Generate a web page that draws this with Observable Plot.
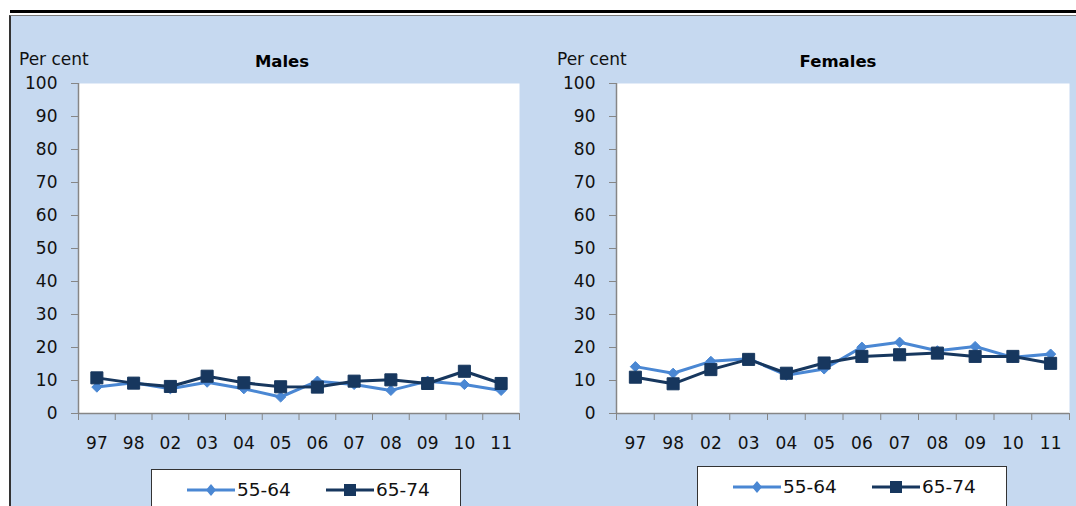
<!DOCTYPE html>
<html>
<head>
<meta charset="utf-8">
<script src="https://cdn.jsdelivr.net/npm/d3@7"></script>
<script src="https://cdn.jsdelivr.net/npm/@observablehq/plot@0.6"></script>
<style>
  html, body { margin: 0; padding: 0; background: #fff; }
  body { width: 1076px; height: 506px; position: relative; overflow: hidden; font-family: "DejaVu Sans", sans-serif; }
  .topline { position: absolute; left: 10px; top: 10px; width: 1066px; height: 3px; background: #000; }
  .box { position: absolute; left: 9px; top: 15px; right: 0; bottom: 0; background: #C6D9F0; border-left: 2px solid #333; border-top: 1px solid #7a7a7a; }
  .ylab { position: absolute; font-size: 17px; color: #111; line-height: 1; }
  .title { position: absolute; font-size: 16.5px; font-weight: bold; color: #000; line-height: 1; transform: translateX(-50%); }
  .chart { position: absolute; top: 70px; }
  .legend { position: absolute; height: 48px; background: #fff; border: 1.5px solid #333; box-sizing: border-box; }
  .item { position: absolute; top: 9px; display: flex; align-items: center; font-size: 18.5px; color: #111; }
  .item svg { display: block; margin-right: 2px; }
</style>
</head>
<body>
<div class="topline"></div>
<div class="box"></div>
<div id="root"></div>
<script>
const years = ["97","98","02","03","04","05","06","07","08","09","10","11"];
const seriesNames = ["55-64", "65-74"];
const males5564 = [8, 9.3, 7.5, 9.5, 7.5, 5, 9.8, 8.8, 7, 9.8, 8.8, 7];
const males6574 = [10.8, 9.2, 8.2, 11.3, 9.3, 8.1, 8, 9.8, 10.2, 9.1, 12.8, 9.1];
const females5564 = [14.2, 12.2, 15.8, 16.6, 11.6, 13.5, 20.1, 21.6, 19, 20.3, 17, 18];
const females6574 = [11, 9, 13.3, 16.4, 12.2, 15.3, 17.3, 17.8, 18.3, 17.3, 17.3, 15.2];
const yTicks = [0, 10, 20, 30, 40, 50, 60, 70, 80, 90, 100];

const LIGHT = "#4A87D3";
const DARK = "#17375E";
const AXIS = "#868686";
const root = document.getElementById("root");

function panel(title, s1, s2, cfg) {
  const rows = years.map((yr, i) => ({i, yr, a: s1[i], b: s2[i]}));
  const chart = Plot.plot({
    width: cfg.width, height: 400,
    marginLeft: cfg.ml, marginRight: cfg.mr, marginTop: 13, marginBottom: 57,
    x: {domain: [-0.5, years.length - 0.5], axis: null, label: null},
    y: {domain: [0, 100], axis: null, label: null},
    style: {fontFamily: "DejaVu Sans, sans-serif", fontSize: "17px", background: "transparent", overflow: "visible"},
    marks: [
      Plot.frame({fill: "white", stroke: "none"}),
      Plot.ruleX([-0.5], {stroke: AXIS, strokeWidth: 1.5}),
      Plot.ruleY([0], {stroke: AXIS, strokeWidth: 1.5}),
      Plot.axisY({ticks: yTicks, tickSize: 7, tickPadding: 14, stroke: AXIS, fill: "#111", label: null}),
      Plot.axisX({ticks: d3.range(years.length + 1).map(k => k - 0.5), tickFormat: () => "", tickSize: 7, stroke: AXIS, label: null}),
      Plot.axisX({ticks: d3.range(years.length), tickFormat: k => years[k], tickSize: 0, tickPadding: 23, fill: "#111", label: null}),
      Plot.line(rows, {x: "i", y: "a", stroke: LIGHT, strokeWidth: 3}),
      Plot.dot(rows, {x: "i", y: "a", symbol: "diamond2", r: 4.6, fill: LIGHT, stroke: LIGHT, strokeWidth: 1}),
      Plot.line(rows, {x: "i", y: "b", stroke: DARK, strokeWidth: 3}),
      Plot.dot(rows, {x: "i", y: "b", symbol: "square", r: 6.8, fill: DARK, stroke: DARK, strokeWidth: 1})
    ]
  });
  chart.classList.add("chart");
  chart.style.left = cfg.left + "px";
  root.appendChild(chart);

  const yl = document.createElement("div");
  yl.className = "ylab"; yl.textContent = "Per cent";
  yl.style.left = cfg.ylabX + "px"; yl.style.top = "51px";
  root.appendChild(yl);

  const t = document.createElement("div");
  t.className = "title"; t.textContent = title;
  t.style.left = cfg.titleX + "px"; t.style.top = "54px";
  root.appendChild(t);

  const lg = document.createElement("div");
  lg.className = "legend";
  lg.style.left = cfg.lgX + "px"; lg.style.top = cfg.lgY + "px"; lg.style.width = "310px";
  const items = [
    {name: seriesNames[0], color: LIGHT, shape: "diamond", x: 35},
    {name: seriesNames[1], color: DARK, shape: "square", x: 174}
  ];
  for (const it of items) {
    const d = document.createElement("div");
    d.className = "item";
    d.style.left = it.x + "px";
    const marker = it.shape === "diamond"
      ? `<polygon points="24,4 29,10 24,16 19,10" fill="${it.color}"/>`
      : `<rect x="18" y="4" width="12" height="12" fill="${it.color}"/>`;
    d.innerHTML = `<svg width="48" height="20"><line x1="0" y1="10" x2="48" y2="10" stroke="${it.color}" stroke-width="3"/>${marker}</svg><span>${it.name}</span>`;
    lg.appendChild(d);
  }
  root.appendChild(lg);
}

panel("Males", males5564, males6574, {left: 0, width: 540, ml: 78, mr: 21, ylabX: 19, titleX: 282, lgX: 151, lgY: 469});
panel("Females", females5564, females6574, {left: 540, width: 536, ml: 76, mr: 7, ylabX: 557, titleX: 838, lgX: 697, lgY: 466});
</script>
</body>
</html>
